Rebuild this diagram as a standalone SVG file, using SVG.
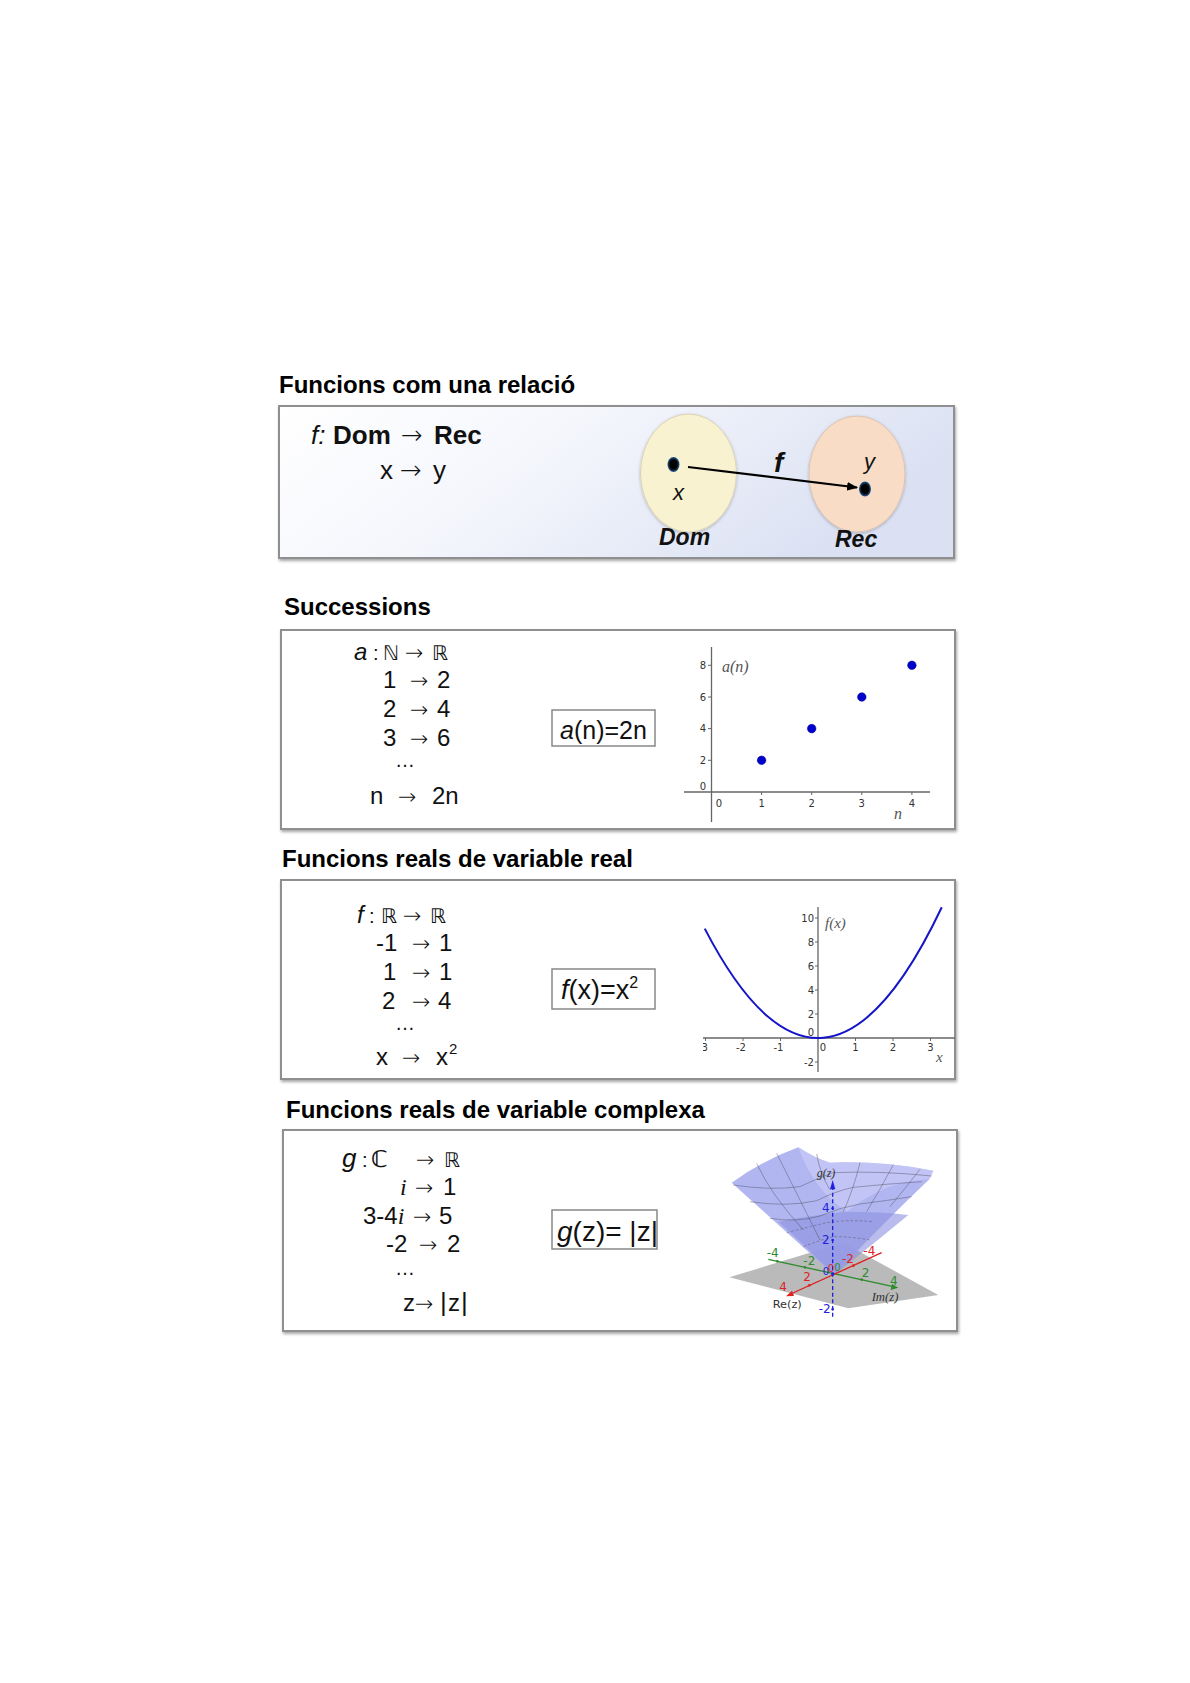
<svg xmlns="http://www.w3.org/2000/svg" width="1190" height="1683" viewBox="0 0 1190 1683">
<style>
.title{font-family:"Liberation Sans","DejaVu Sans",sans-serif;font-weight:bold;font-size:24px;fill:#000}
.m{font-family:"Liberation Sans","DejaVu Sans",sans-serif;font-size:24px;fill:#111}
.ar{font-family:"DejaVu Sans",sans-serif;font-size:22px;font-weight:200;font-style:normal}
.ar26{font-family:"DejaVu Sans",sans-serif;font-size:26px;font-weight:200;font-style:normal}
.it{font-style:italic}
.ser{font-family:"Liberation Serif","DejaVu Serif",serif;font-style:italic}
.box{fill:#fff;stroke:#8f8f8f;stroke-width:2}
.fbox{fill:#fff;stroke:#888;stroke-width:1.5}
.tk{font-family:"DejaVu Sans",sans-serif;font-size:10px;fill:#333}
.axis{stroke:#666;stroke-width:1.3;fill:none}
.lab{font-family:"Liberation Serif","DejaVu Serif",serif;font-style:italic;font-size:16px;fill:#555}
.grid{fill:none;stroke:#4a4a5a;stroke-width:2;opacity:.65}
</style>
<defs>
<linearGradient id="bg1" x1="0" y1="0" x2="1" y2="0.3">
<stop offset="0" stop-color="#ffffff"/>
<stop offset="0.45" stop-color="#f4f6fc"/>
<stop offset="1" stop-color="#dbe1f3"/>
</linearGradient>
<filter id="sh" x="-5%" y="-5%" width="110%" height="115%">
<feDropShadow dx="1" dy="2" stdDeviation="1.5" flood-color="#000" flood-opacity="0.35"/>
</filter>
<filter id="soft" x="-20%" y="-20%" width="140%" height="140%">
<feDropShadow dx="0" dy="1" stdDeviation="1.5" flood-color="#000" flood-opacity="0.25"/>
</filter>
<radialGradient id="dotg">
<stop offset="0.6" stop-color="#000"/>
<stop offset="1" stop-color="#2a5d9a"/>
</radialGradient>
<marker id="ah" viewBox="0 0 10 10" refX="9" refY="5" markerWidth="5" markerHeight="5" orient="auto">
<path d="M0,1 L10,5 L0,9 Z" fill="#000"/>
</marker>
<clipPath id="c2"><rect x="684" y="640" width="256" height="183"/></clipPath>
<clipPath id="c3"><rect x="703" y="895" width="252" height="180"/></clipPath>
</defs>
<rect width="1190" height="1683" fill="#fff"/>

<!-- Panel 1 -->
<g id="panel-relacio">
<text class="title" x="279" y="393">Funcions com una relació</text>
<rect x="279" y="406" width="675" height="152" fill="url(#bg1)" stroke="#8f8f8f" stroke-width="2" filter="url(#sh)"/>
<text class="m" style="font-size:26px"><tspan class="it" x="311" y="444">f:</tspan><tspan x="333" y="444" font-weight="bold">Dom</tspan><tspan class="ar26" x="401" y="444">→</tspan><tspan x="434" y="444" font-weight="bold">Rec</tspan></text>
<text class="m" style="font-size:26px"><tspan x="380" y="479">x</tspan><tspan class="ar26" x="400" y="479">→</tspan><tspan x="433" y="479">y</tspan></text>
</g>
<g id="node-dom">
<ellipse cx="688.5" cy="473" rx="48" ry="59" fill="#f9f2d0" stroke="#d8d2b8" stroke-width="1" filter="url(#soft)"/>
<ellipse cx="673.5" cy="464.5" rx="6" ry="7.5" fill="url(#dotg)"/>
<text class="m it" x="673" y="500" style="font-size:22px">x</text>
<text class="m it" x="659" y="545" style="font-size:23px;font-weight:bold">Dom</text>
</g>
<g id="node-rec">
<ellipse cx="857" cy="474" rx="48" ry="58" fill="#f9dcc6" stroke="#dcc4b2" stroke-width="1" filter="url(#soft)"/>
<ellipse cx="865" cy="489" rx="6" ry="7.5" fill="url(#dotg)"/>
<text class="m it" x="864" y="469" style="font-size:22px">y</text>
<text class="m it" x="835" y="547" style="font-size:23px;font-weight:bold">Rec</text>
</g>
<g id="connectors">
<line x1="688" y1="467" x2="857" y2="487.5" stroke="#000" stroke-width="2.2" marker-end="url(#ah)"/>
<text class="m it" x="774" y="472" style="font-size:28px;font-weight:bold">f</text>
</g>

<!-- Panel 2 -->
<g id="panel-successions">
<text class="title" x="284" y="615">Successions</text>
<rect class="box" x="281" y="630" width="674" height="199" filter="url(#sh)"/>
<text class="m"><tspan class="it" x="354" y="660">a</tspan><tspan x="373" y="660" font-size="20">:</tspan><tspan x="383" y="660" font-family="DejaVu Sans" font-size="20">ℕ</tspan><tspan class="ar" x="405" y="660">→</tspan><tspan x="432" y="660" font-family="DejaVu Sans" font-size="20">ℝ</tspan></text>
<text class="m"><tspan x="383" y="688">1</tspan><tspan class="ar" x="410" y="688">→</tspan><tspan x="437" y="688">2</tspan></text>
<text class="m"><tspan x="383" y="717">2</tspan><tspan class="ar" x="410" y="717">→</tspan><tspan x="437" y="717">4</tspan></text>
<text class="m"><tspan x="383" y="746">3</tspan><tspan class="ar" x="410" y="746">→</tspan><tspan x="437" y="746">6</tspan></text>
<text class="m" x="395" y="767" style="font-size:20px">…</text>
<text class="m"><tspan x="370" y="804">n</tspan><tspan class="ar" x="398" y="804">→</tspan><tspan x="432" y="804">2n</tspan></text>
<rect class="fbox" x="552" y="710" width="103" height="36"/>
<text class="m" style="font-size:25px"><tspan class="it" x="560" y="739">a</tspan><tspan>(n)=2n</tspan></text>
<g id="plot-an" clip-path="url(#c2)">
<line class="axis" x1="684" y1="792" x2="930" y2="792"/>
<line class="axis" x1="711.5" y1="647" x2="711.5" y2="822"/>
<g stroke="#666" stroke-width="1">
<line x1="708" y1="665.3" x2="711.5" y2="665.3"/><line x1="708" y1="697" x2="711.5" y2="697"/><line x1="708" y1="728.6" x2="711.5" y2="728.6"/><line x1="708" y1="760.3" x2="711.5" y2="760.3"/>
<line x1="761.6" y1="792" x2="761.6" y2="795"/><line x1="811.7" y1="792" x2="811.7" y2="795"/><line x1="861.8" y1="792" x2="861.8" y2="795"/><line x1="911.9" y1="792" x2="911.9" y2="795"/>
</g>
<g class="tk" text-anchor="end">
<text x="706" y="669">8</text><text x="706" y="700.5">6</text><text x="706" y="732">4</text><text x="706" y="764">2</text><text x="706" y="790">0</text><text x="706" y="826">-</text>
</g>
<g class="tk" text-anchor="middle">
<text x="719" y="807">0</text><text x="761.6" y="807">1</text><text x="811.7" y="807">2</text><text x="861.8" y="807">3</text><text x="911.9" y="807">4</text>
</g>
<g fill="#0000cc" stroke="#000099" stroke-width="0.5">
<circle cx="761.6" cy="760.3" r="4.3"/><circle cx="811.7" cy="728.6" r="4.3"/><circle cx="861.8" cy="697" r="4.3"/><circle cx="911.9" cy="665.3" r="4.3"/>
</g>
<text class="lab" x="722" y="672">a(n)</text>
<text class="lab" x="894" y="819">n</text>
</g>
</g>

<!-- Panel 3 -->
<g id="panel-real">
<text class="title" x="282" y="867">Funcions reals de variable real</text>
<rect class="box" x="281" y="880" width="674" height="199" filter="url(#sh)"/>
<text class="m"><tspan class="it" x="357" y="923">f</tspan><tspan x="369" y="923" font-size="20">:</tspan><tspan x="381" y="923" font-family="DejaVu Sans" font-size="20">ℝ</tspan><tspan class="ar" x="403" y="923">→</tspan><tspan x="430" y="923" font-family="DejaVu Sans" font-size="20">ℝ</tspan></text>
<text class="m"><tspan x="376" y="951">-1</tspan><tspan class="ar" x="412" y="951">→</tspan><tspan x="439" y="951">1</tspan></text>
<text class="m"><tspan x="383" y="980">1</tspan><tspan class="ar" x="412" y="980">→</tspan><tspan x="439" y="980">1</tspan></text>
<text class="m"><tspan x="382" y="1009">2</tspan><tspan class="ar" x="412" y="1009">→</tspan><tspan x="438" y="1009">4</tspan></text>
<text class="m" x="395" y="1030" style="font-size:20px">…</text>
<text class="m"><tspan x="376" y="1065">x</tspan><tspan class="ar" x="402" y="1065">→</tspan><tspan x="436" y="1065">x</tspan><tspan x="449" y="1054" font-size="15">2</tspan></text>
<rect class="fbox" x="552" y="969" width="103" height="40"/>
<text class="m" style="font-size:27px"><tspan class="it" x="561" y="999">f</tspan><tspan>(x)=x</tspan><tspan dy="-11" font-size="16">2</tspan></text>
<g id="plot-fx" clip-path="url(#c3)">
<line class="axis" x1="700" y1="1038" x2="955" y2="1038"/>
<line class="axis" x1="818" y1="907" x2="818" y2="1072"/>
<g stroke="#666" stroke-width="1">
<line x1="815" y1="918" x2="818" y2="918"/><line x1="815" y1="942" x2="818" y2="942"/><line x1="815" y1="966" x2="818" y2="966"/><line x1="815" y1="990" x2="818" y2="990"/><line x1="815" y1="1014" x2="818" y2="1014"/><line x1="815" y1="1062" x2="818" y2="1062"/>
<line x1="705.5" y1="1038" x2="705.5" y2="1041"/><line x1="743" y1="1038" x2="743" y2="1041"/><line x1="780.5" y1="1038" x2="780.5" y2="1041"/><line x1="855.5" y1="1038" x2="855.5" y2="1041"/><line x1="893" y1="1038" x2="893" y2="1041"/><line x1="930.5" y1="1038" x2="930.5" y2="1041"/>
</g>
<g class="tk" text-anchor="end">
<text x="814" y="922">10</text><text x="814" y="946">8</text><text x="814" y="970">6</text><text x="814" y="994">4</text><text x="814" y="1018">2</text><text x="814" y="1036">0</text><text x="814" y="1066">-2</text>
</g>
<g class="tk" text-anchor="middle">
<text x="703" y="1051">-3</text><text x="741" y="1051">-2</text><text x="778.5" y="1051">-1</text><text x="823" y="1051">0</text><text x="855.5" y="1051">1</text><text x="893" y="1051">2</text><text x="930.5" y="1051">3</text>
</g>
<path d="M704.75,928.6 Q823.25,1157.6 941.75,907.3" fill="none" stroke="#1515c8" stroke-width="2"/>
<text class="lab" x="825" y="928" style="font-size:15px">f(x)</text>
<text class="lab" x="936" y="1062" style="font-size:15px">x</text>
</g>
</g>

<!-- Panel 4 -->
<g id="panel-complexa">
<text class="title" x="286" y="1118">Funcions reals de variable complexa</text>
<rect class="box" x="283" y="1130" width="674" height="201" filter="url(#sh)"/>
<text class="m"><tspan class="it" x="342" y="1167" font-size="26">g</tspan><tspan x="362" y="1167" font-size="20">:</tspan><tspan x="371" y="1167" font-family="DejaVu Sans" font-size="23" font-weight="bold">ℂ</tspan><tspan class="ar" x="416" y="1167">→</tspan><tspan x="444" y="1167" font-family="DejaVu Sans" font-size="20">ℝ</tspan></text>
<text class="m"><tspan class="ser" x="400" y="1195">i</tspan><tspan class="ar" x="415" y="1195">→</tspan><tspan x="443" y="1195">1</tspan></text>
<text class="m"><tspan x="363" y="1224">3-4</tspan><tspan class="ser">i</tspan><tspan class="ar" x="413" y="1224">→</tspan><tspan x="439" y="1224">5</tspan></text>
<text class="m"><tspan x="386" y="1252">-2</tspan><tspan class="ar" x="419" y="1252">→</tspan><tspan x="447" y="1252">2</tspan></text>
<text class="m" x="395" y="1275" style="font-size:20px">…</text>
<text class="m"><tspan x="403" y="1311">z</tspan><tspan class="ar" x="415" y="1311">→</tspan><tspan x="440" y="1311" font-size="26">|</tspan><tspan x="448" y="1311">z</tspan><tspan x="461" y="1311" font-size="26">|</tspan></text>
<rect class="fbox" x="552" y="1210" width="105" height="39"/>
<text class="m" style="font-size:28px"><tspan class="it" x="557" y="1241">g</tspan><tspan>(z)= |z|</tspan></text>
<g id="plot-gz" transform="translate(720,1140) scale(0.33333)">
<polygon points="28,412 369,308 655,465 385,505" fill="#a9a9a9" opacity="0.8"/>
<path d="M35,128 Q130,60 235,22 Q285,55 330,68 Q480,62 640,92 L628,118 Q500,240 342,405 Q170,250 35,128 Z" fill="#a9aeef" opacity="0.9"/>
<path d="M235,22 Q285,55 330,68 Q480,62 640,92 L628,118 Q500,120 380,215 Q280,150 235,22 Z" fill="#c8cbf7" opacity="0.7"/>
<path d="M175,245 Q280,225 380,215 Q480,215 565,225 Q450,320 342,405 Q260,320 175,245 Z" fill="#8a90e0" opacity="0.6"/>
<path class="grid" d="M110,70 Q150,160 250,270"/>
<path class="grid" d="M170,40 Q220,140 300,300"/>
<path class="grid" d="M290,42 Q300,100 330,150"/>
<path class="grid" d="M420,68 Q400,150 370,215"/>
<path class="grid" d="M520,74 Q480,150 440,215"/>
<path class="grid" d="M600,88 Q560,140 510,200"/>
<path class="grid" d="M40,135 Q150,152 240,140 Q300,112 340,98 Q480,92 635,108"/>
<path class="grid" d="M90,185 Q200,202 290,182 Q350,152 400,142 Q500,132 605,125"/>
<path class="grid" d="M150,235 Q230,248 300,228 Q360,202 420,192 Q500,182 575,170"/>
<path class="grid" d="M200,278 Q260,262 320,248 Q380,238 460,245" stroke-dasharray="8,6"/>
<path class="grid" d="M250,320 Q300,300 340,290 Q400,290 450,300" stroke-dasharray="8,6"/>
<line x1="145" y1="358" x2="520" y2="440" stroke="#2e8b2e" stroke-width="4"/>
<polygon points="535,443 512,450 516,432" fill="#2e8b2e"/>
<g fill="#2e8b2e"><circle cx="172" cy="364" r="4"/><circle cx="255" cy="382" r="4"/><circle cx="425" cy="419" r="4"/></g>
<line x1="212" y1="462" x2="485" y2="338" stroke="#dd2222" stroke-width="4"/>
<polygon points="198,469 216,452 222,468" fill="#dd2222"/>
<g fill="#dd2222"><circle cx="268" cy="436" r="4"/><circle cx="400" cy="377" r="4"/></g>
<line x1="338" y1="530" x2="338" y2="145" stroke="#2222dd" stroke-width="4" stroke-dasharray="12,8"/>
<polygon points="338,120 330,148 346,148" fill="#2222dd"/>
<g fill="#2222dd"><circle cx="338" cy="205" r="4"/><circle cx="338" cy="300" r="4"/><circle cx="338" cy="508" r="4"/><circle cx="338" cy="402" r="5"/></g>
<g font-family="DejaVu Sans,sans-serif" font-size="36">
<text x="306" y="217" fill="#2222dd">4</text>
<text x="306" y="312" fill="#2222dd">2</text>
<text x="296" y="518" fill="#2222dd">-2</text>
<text x="308" y="405" fill="#2222dd" font-size="30">0</text>
<text x="323" y="395" fill="#dd2222" font-size="30">0</text>
<text x="343" y="393" fill="#2e8b2e" font-size="30">0</text>
<text x="140" y="350" fill="#2e8b2e">-4</text>
<text x="250" y="374" fill="#2e8b2e">-2</text>
<text x="425" y="412" fill="#2e8b2e">2</text>
<text x="510" y="434" fill="#2e8b2e">4</text>
<text x="178" y="452" fill="#dd2222">4</text>
<text x="250" y="424" fill="#dd2222">2</text>
<text x="366" y="370" fill="#dd2222">-2</text>
<text x="430" y="345" fill="#dd2222">-4</text>
<text x="158" y="505" fill="#333" font-size="34">Re(z)</text>
</g>
<text x="455" y="482" font-family="Liberation Serif,serif" font-style="italic" font-size="38" fill="#333">Im(z)</text>
<text x="290" y="112" font-family="Liberation Serif,serif" font-style="italic" font-size="36" fill="#333">g(z)</text>
</g>
</g>
</svg>
